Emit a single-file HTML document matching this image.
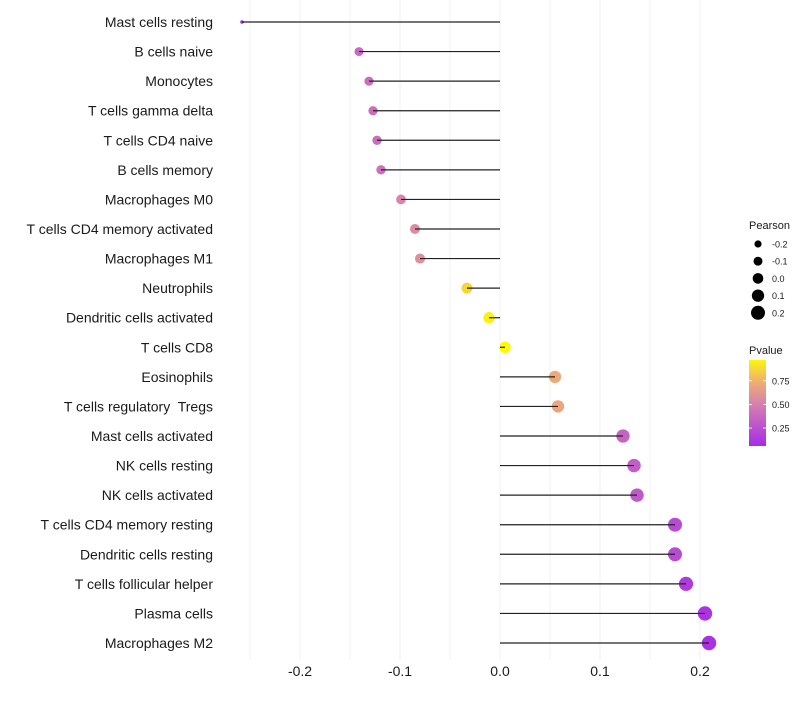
<!DOCTYPE html>
<html><head><meta charset="utf-8"><style>
html,body{margin:0;padding:0;background:#fff;}
svg text{font-family:"Liberation Sans",Arial,sans-serif;white-space:pre;}
</style></head><body>
<svg id="chart" width="800" height="700" xmlns="http://www.w3.org/2000/svg">
<g id="grid"></g>
<g id="ylabels"></g>
<g id="xlabels"></g>
<g id="marks"></g>
<g id="legend"></g>
</svg>
<script>
const categories=["Mast cells resting","B cells naive","Monocytes","T cells gamma delta","T cells CD4 naive","B cells memory","Macrophages M0","T cells CD4 memory activated","Macrophages M1","Neutrophils","Dendritic cells activated","T cells CD8","Eosinophils","T cells regulatory  Tregs","Mast cells activated","NK cells resting","NK cells activated","T cells CD4 memory resting","Dendritic cells resting","T cells follicular helper","Plasma cells","Macrophages M2"];
const pearson=[-0.258,-0.141,-0.131,-0.127,-0.123,-0.119,-0.099,-0.085,-0.080,-0.033,-0.011,0.005,0.055,0.058,0.123,0.134,0.137,0.175,0.175,0.186,0.205,0.209];
const pvalues=[0.06,0.38,0.40,0.40,0.40,0.42,0.52,0.56,0.58,0.87,0.95,0.98,0.72,0.70,0.35,0.32,0.30,0.22,0.22,0.14,0.10,0.09];
const xTicks=[-0.2,-0.1,0.0,0.1,0.2];
const xTickLabels=["-0.2","-0.1","0.0","0.1","0.2"];
const sizeLegendVals=[-0.2,-0.1,0.0,0.1,0.2];
const colorLegendVals=[0.25,0.5,0.75];

const NS="http://www.w3.org/2000/svg";
function mk(tag,attrs,parent){const e=document.createElementNS(NS,tag);for(const k in attrs)e.setAttribute(k,attrs[k]);parent.appendChild(e);return e;}
const xs=v=>500+v*1000;
const ys=i=>22+i*(643-22)/21;
const rs=v=>v<-0.2?1.8:Math.sqrt(33+92*v);
const stops=[[0,[160,32,240]],[0.5,[214,128,176]],[0.75,[240,176,112]],[1,[255,255,0]]];
function col(p){p=Math.max(0,Math.min(1,p));for(let i=1;i<stops.length;i++){if(p<=stops[i][0]){const a=stops[i-1],b=stops[i];const t=(p-a[0])/(b[0]-a[0]);const c=a[1].map((x,j)=>Math.round(x+(b[1][j]-x)*t));return `rgb(${c.join(',')})`;}}return 'rgb(255,255,0)';}

const grid=document.getElementById('grid');
for(let v=-0.25;v<=0.2001;v+=0.05){
  const l=mk('line',{x1:xs(v),x2:xs(v),y1:0,y2:660,stroke:'#f2f2f2','stroke-width':1},grid);
  
  
}
const yl=document.getElementById('ylabels');
categories.forEach((c,i)=>{
  const t=mk('text',{x:213,y:ys(i)+5,'text-anchor':'end','font-size':14,fill:'#1a1a1a','xml:space':'preserve'},yl);t.textContent=c;
  
  
});
const xl=document.getElementById('xlabels');
xTicks.forEach((v,i)=>{
  const t=mk('text',{x:xs(v),y:676,'text-anchor':'middle','font-size':14,fill:'#1a1a1a'},xl);t.textContent=xTickLabels[i];
  
  
});
const marks=document.getElementById('marks');
categories.forEach((c,i)=>{
  const d=mk('circle',{cx:xs(pearson[i]),cy:ys(i),r:rs(pearson[i]),fill:col(pvalues[i])},marks);
  
  
  const l=mk('line',{x1:xs(0),x2:xs(pearson[i]),y1:ys(i),y2:ys(i),stroke:'#222','stroke-width':1.2},marks);
  
  
});
const lg=document.getElementById('legend');
let t=mk('text',{x:749,y:229,'font-size':11,fill:'#1a1a1a'},lg);t.textContent='Pearson';


sizeLegendVals.forEach((v,i)=>{
  const y=244+i*17.2;
  const c=mk('circle',{cx:758,cy:y,r:3.6+i*0.85,fill:'#000'},lg);
  
  
  const tx=mk('text',{x:772,y:y+3.5,'font-size':9,fill:'#1a1a1a'},lg);tx.textContent=v.toFixed(1);
  
  
});
t=mk('text',{x:749,y:354,'font-size':11,fill:'#1a1a1a'},lg);t.textContent='Pvalue';


const defs=mk('defs',{},lg);
const gr=mk('linearGradient',{id:'pg',x1:0,y1:1,x2:0,y2:0},defs);
const pTop=0.97,pBot=0.06;
for(let k=0;k<=10;k++){const p=pBot+(pTop-pBot)*k/10;mk('stop',{offset:k/10,'stop-color':col(p)},gr);}
const bar=mk('rect',{x:749,y:360,width:17,height:86,fill:'url(#pg)'},lg);


colorLegendVals.forEach(v=>{
  const y=446-(v-pBot)/(pTop-pBot)*86;
  mk('line',{x1:749,x2:752,y1:y,y2:y,stroke:'#fff','stroke-width':0.8},lg);
  mk('line',{x1:763,x2:766,y1:y,y2:y,stroke:'#fff','stroke-width':0.8},lg);
  const tx=mk('text',{x:772,y:y+3.5,'font-size':9,fill:'#1a1a1a'},lg);tx.textContent=v.toFixed(2);
  
  
});
</script>
</body></html>
